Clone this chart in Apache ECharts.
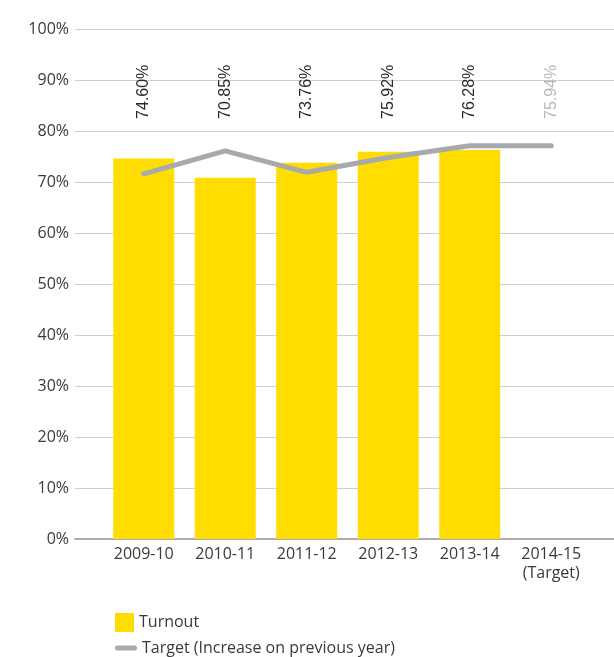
<!DOCTYPE html>
<html>
<head>
<meta charset="utf-8">
<script src="https://cdn.jsdelivr.net/npm/echarts@6/dist/echarts.min.js"></script>
<style>
  html, body { margin: 0; padding: 0; background: #ffffff; }
  #chart { width: 614px; height: 657px; }
</style>
</head>
<body>
<div id="chart"></div>
<script>
// Turnout by year, with the yearly target line
const years = ['2009-10', '2010-11', '2011-12', '2012-13', '2013-14', '2014-15\n(Target)'];
const turnout = [74.60, 70.85, 73.76, 75.92, 76.28];
const turnoutTarget2014 = 75.94;
const target = [71.6, 76.1, 71.9, 74.8, 77.1, 77.1];
const yTicks = [0, 10, 20, 30, 40, 50, 60, 70, 80, 90, 100];

const axisFont = '"Open Sans", "Noto Sans", sans-serif';
const labelFont = '"Liberation Sans", Arial, sans-serif';

const barData = turnout.map(v => ({ value: v }));
barData.push({
  value: turnoutTarget2014,
  itemStyle: { color: 'rgba(0,0,0,0)' },
  label: { color: '#b9b9b9' }
});

const chart = echarts.init(document.getElementById('chart'), null, { renderer: 'canvas' });

chart.setOption({
  animation: false,
  backgroundColor: '#ffffff',
  grid: [
    { left: 75, right: 0, top: 29, bottom: 118 },
    { left: 103, right: 22, top: 29, bottom: 118 }
  ],
  xAxis: [
    {
      gridIndex: 0, type: 'category', data: years,
      axisLine: { show: true, lineStyle: { color: '#ababab', width: 2 } },
      axisTick: { show: false }, axisLabel: { show: false }
    },
    {
      gridIndex: 1, type: 'category', data: years,
      axisLine: { show: false }, axisTick: { show: false },
      axisLabel: {
        margin: 6, color: '#3a3a3a', fontFamily: axisFont, fontSize: 16,
        lineHeight: 19, interval: 0
      }
    }
  ],
  yAxis: [
    {
      gridIndex: 0, type: 'value', min: yTicks[0], max: yTicks[yTicks.length - 1], interval: 10,
      axisLine: { show: false }, axisTick: { show: false },
      axisLabel: {
        margin: 6, color: '#3a3a3a', fontFamily: axisFont, fontSize: 16,
        formatter: v => v + '%'
      },
      splitLine: { lineStyle: { color: '#cfcfcf', width: 1.2 } }
    },
    {
      gridIndex: 1, type: 'value', min: yTicks[0], max: yTicks[yTicks.length - 1], interval: 10,
      show: false, splitLine: { show: false }
    }
  ],
  legend: [
    {
      data: ['Turnout'], orient: 'vertical', left: 110, top: 608,
      itemWidth: 19, itemHeight: 19, icon: 'rect',
      textStyle: { color: '#3a3a3a', fontFamily: axisFont, fontSize: 16 }
    },
    {
      data: [{
        name: 'Target (Increase on previous year)',
        icon: 'path://M2.5,0 H19.5 A2.5,2.5 0 0 1 19.5,5 H2.5 A2.5,2.5 0 0 1 2.5,0 Z'
      }],
      orient: 'vertical', left: 110, top: 635,
      itemWidth: 22, itemHeight: 5,
      textStyle: { color: '#3a3a3a', fontFamily: axisFont, fontSize: 16 }
    }
  ],
  series: [
    {
      name: 'Turnout', type: 'bar', xAxisIndex: 1, yAxisIndex: 1,
      data: barData, barWidth: 61,
      itemStyle: { color: '#ffdd00' },
      label: {
        show: true, position: 'insideBottom', distance: 420,
        rotate: 90, align: 'left', verticalAlign: 'middle',
        color: '#2a2a2a', fontFamily: labelFont, fontSize: 16,
        formatter: p => p.value.toFixed(2) + '%'
      },
      z: 2
    },
    {
      name: 'Target (Increase on previous year)', type: 'line', xAxisIndex: 1, yAxisIndex: 1,
      data: target, symbol: 'none', showSymbol: false,
      itemStyle: { color: '#a7a9ac' },
      lineStyle: { color: '#a7a9ac', width: 5, cap: 'round', join: 'round' },
      z: 3
    }
  ]
});
</script>
</body>
</html>
